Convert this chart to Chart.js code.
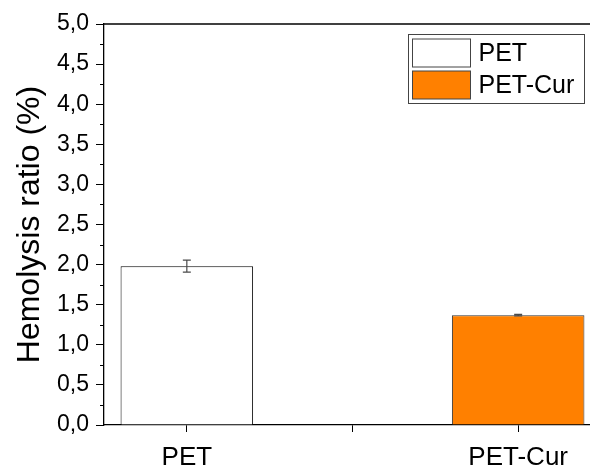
<!DOCTYPE html>
<html>
<head>
<meta charset="utf-8">
<script src="https://cdn.jsdelivr.net/npm/chart.js@4"></script>
<style>
  html, body { margin: 0; padding: 0; background: #fff; overflow: hidden; }
  #wrap { width: 590px; height: 473px; overflow: hidden; }
</style>
</head>
<body>
<div id="wrap"><canvas id="chart" width="620" height="473"></canvas></div>
<script>
const categories = ['PET', 'PET-Cur'];
const hemolysis = [1.98, 1.37];
const hemolysisErr = [0.075, 0.01];
const barColors = ['#ffffff', '#ff8000'];
const barBorders = ['#000000', '#333333'];
const yTicks = [0, 0.5, 1, 1.5, 2, 2.5, 3, 3.5, 4, 4.5, 5];

const fontFamily = '"Liberation Sans", Arial, sans-serif';

// error bars on top of each bar
const errorBars = {
  id: 'errorBars',
  afterDatasetsDraw(chart) {
    const ctx = chart.ctx;
    const y = chart.scales.y;
    ctx.save();
    ctx.strokeStyle = '#4a4a4a';
    ctx.lineWidth = 1.2;
    chart.data.datasets.forEach((ds, i) => {
      const bar = chart.getDatasetMeta(i).data[0];
      const v = hemolysis[i], e = hemolysisErr[i];
      const top = y.getPixelForValue(v + e);
      const bot = y.getPixelForValue(v - e);
      ctx.beginPath();
      ctx.moveTo(bar.x, top); ctx.lineTo(bar.x, bot);
      ctx.moveTo(bar.x - 4, top); ctx.lineTo(bar.x + 4, top);
      ctx.moveTo(bar.x - 4, bot); ctx.lineTo(bar.x + 4, bot);
      ctx.stroke();
    });
    ctx.restore();
  }
};

// top frame line, minor y ticks and the boxed legend
const frame = {
  id: 'frame',
  afterDraw(chart) {
    const ctx = chart.ctx;
    const a = chart.chartArea;
    const y = chart.scales.y;
    ctx.save();
    ctx.strokeStyle = '#000';
    ctx.lineWidth = 1.3;
    ctx.beginPath();
    ctx.moveTo(a.left, a.top);
    ctx.lineTo(a.right, a.top);
    ctx.stroke();

    ctx.lineWidth = 1;
    for (let i = 0; i < yTicks.length - 1; i++) {
      const py = Math.round(y.getPixelForValue(yTicks[i] + 0.25)) + 0.5;
      ctx.beginPath();
      ctx.moveTo(a.left - 4, py);
      ctx.lineTo(a.left, py);
      ctx.stroke();
    }

    // legend
    const lx = 408.5, ly = 34.5, lw = 176, lh = 69;
    ctx.strokeStyle = '#444';
    ctx.lineWidth = 1;
    ctx.strokeRect(lx, ly, lw, lh);
    ctx.font = '25px ' + fontFamily;
    ctx.textBaseline = 'middle';
    ctx.fillStyle = '#000';
    chart.data.datasets.forEach((ds, i) => {
      const sy = ly + 4.5 + i * 32;
      ctx.fillStyle = ds.backgroundColor;
      ctx.fillRect(lx + 4, sy, 58, 28);
      ctx.strokeStyle = '#444';
      ctx.strokeRect(lx + 4, sy, 58, 28);
      ctx.fillStyle = '#000';
      ctx.fillText(ds.label, lx + 70, sy + 15);
    });
    ctx.restore();
  }
};

const datasets = categories.map((name, i) => ({
  label: name,
  data: [{ x: i + 1, y: hemolysis[i] }],
  backgroundColor: barColors[i],
  borderColor: barBorders[i],
  borderWidth: 1,
  grouped: false,
  barPercentage: 0.8,
  categoryPercentage: 1
}));

new Chart(document.getElementById('chart'), {
  type: 'bar',
  data: { datasets },
  options: {
    responsive: false,
    animation: false,
    layout: { padding: { left: 0, top: 24, right: 19, bottom: 0 } },
    plugins: { legend: { display: false }, tooltip: { enabled: false } },
    scales: {
      x: {
        type: 'linear',
        offset: false,
        min: 0.75,
        max: 2.25,
        afterBuildTicks: s => { s.ticks = [{ value: 1 }, { value: 1.5 }, { value: 2 }]; },
        afterFit: s => { s.height = 48; },
        ticks: {
          callback: v => (Number.isInteger(v) ? categories[v - 1] : ''),
          font: { family: fontFamily, size: 26 },
          color: '#000',
          padding: 10,
          maxRotation: 0,
          autoSkip: false
        },
        grid: { offset: false, drawOnChartArea: false, tickLength: 7, tickColor: '#000', tickWidth: 1 },
        border: { color: '#000', width: 1.3 }
      },
      y: {
        min: 0,
        max: 5,
        afterBuildTicks: s => { s.ticks = yTicks.map(v => ({ value: v })); },
        afterFit: s => { s.width = 104; },
        ticks: {
          callback: v => v.toFixed(1).replace('.', ','),
          font: { family: fontFamily, size: 23 },
          color: '#000',
          padding: 7
        },
        grid: { drawOnChartArea: false, tickLength: 8, tickColor: '#000', tickWidth: 1 },
        border: { color: '#000', width: 1.3 },
        title: {
          display: true,
          text: 'Hemolysis ratio (%)',
          font: { family: fontFamily, size: 32 },
          color: '#000',
          padding: { top: 11, bottom: 0 }
        }
      }
    }
  },
  plugins: [errorBars, frame]
});
</script>
</body>
</html>
